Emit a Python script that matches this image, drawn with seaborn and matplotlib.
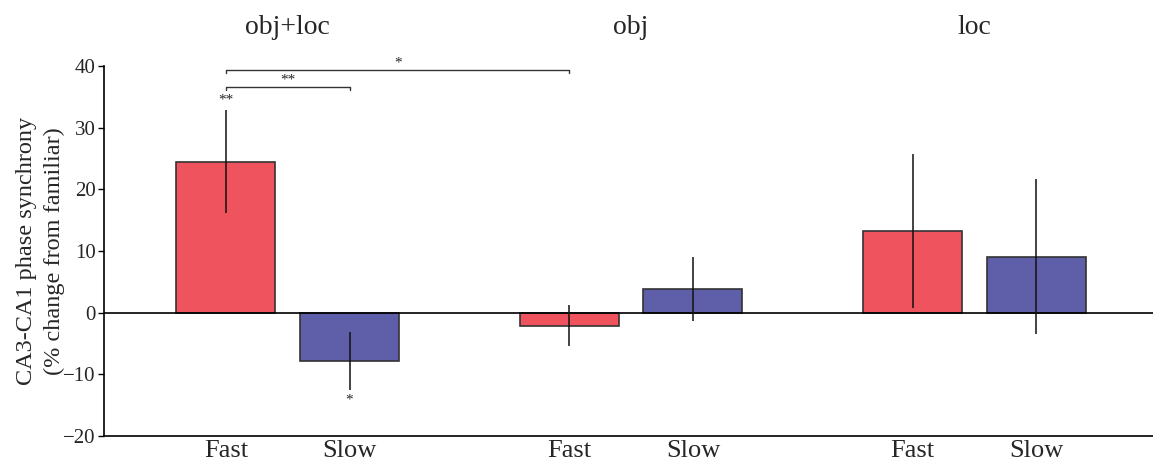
import numpy as np
import pandas as pd
import matplotlib
matplotlib.use("Agg")
import matplotlib.pyplot as plt
import matplotlib.transforms as mtransforms
import seaborn as sns

# Conditions and speed groups
conditions = ["obj+loc", "obj", "loc"]
speeds = ["Fast", "Slow"]

# Mean % change and SEM per condition, ordered (Fast, Slow)
fast_mean = [24.5, -2.1, 13.2]
slow_mean = [-7.8, 3.8, 9.1]
fast_sem = [8.3, 3.3, 12.5]
slow_sem = [4.7, 5.2, 12.5]

yticks = [-20, -10, 0, 10, 20, 30, 40]
ylabel = "CA3-CA1 phase synchrony\n(% change from familiar)"

palette = {"Fast": "#EF535E", "Slow": "#5F5FA9"}

df = pd.DataFrame({
    "condition": conditions * 2,
    "speed": ["Fast"] * 3 + ["Slow"] * 3,
    "value": fast_mean + slow_mean,
    "sem": fast_sem + slow_sem,
})

sns.set_theme(style="white")
plt.rcParams["font.family"] = ["Liberation Serif", "DejaVu Serif"]

fig = plt.figure(figsize=(11.53, 4.63), dpi=100)
ax = fig.add_axes([0.0902, 0.0583, 0.9098, 0.7992])

sns.barplot(data=df, x="condition", y="value", hue="speed", order=conditions,
            hue_order=speeds, palette=palette, errorbar=None, width=0.72,
            gap=0.2, edgecolor="#333333", linewidth=1.2, saturation=1.0,
            legend=False, ax=ax)

# Bar centres, in the order the bars were drawn (hue-major)
centers = {}
for (spd, cond), patch in zip([(s, c) for s in speeds for c in conditions], ax.patches):
    centers[(cond, spd)] = patch.get_x() + patch.get_width() / 2

xs = [centers[(c, s)] for c, s in zip(df["condition"], df["speed"])]
ax.errorbar(xs, df["value"], yerr=df["sem"], fmt="none", ecolor="#111111",
            elinewidth=1.1, capsize=0, zorder=5)

ax.axhline(0, color="black", lw=1.2, zorder=4)

ax.set_ylim(-20, 40)
ax.set_xlim(-0.535, 2.52)
ax.set_yticks(yticks)
ax.set_yticklabels(["\u221220", "\u221210", "0", "10", "20", "30", "40"], fontsize=15)
ax.tick_params(axis="y", direction="out", length=4, width=1, color="black", pad=2, left=True)

tick_pos = [centers[(c, s)] for c in conditions for s in speeds]
ax.set_xticks(tick_pos)
ax.set_xticklabels([s for c in conditions for s in speeds], fontsize=19)
ax.tick_params(axis="x", length=0, pad=3)
ax.set_xlabel("")
ax.set_ylabel(ylabel, fontsize=17.5, linespacing=1.4, labelpad=-1)

for side in ["top", "right"]:
    ax.spines[side].set_visible(False)
for side in ["left", "bottom"]:
    ax.spines[side].set_color("black")
    ax.spines[side].set_linewidth(1.2)

# Condition titles above each group
trans = mtransforms.blended_transform_factory(ax.transData, fig.transFigure)
for i, cond in enumerate(conditions):
    ax.text(i, 0.94, cond, transform=trans, ha="center", va="center", fontsize=20)

# Significance brackets
def bracket(x0, x1, y, label, tick=0.5):
    ax.plot([x0, x0, x1, x1], [y - tick, y, y, y - tick], color="#333333", lw=1.0,
            clip_on=False)
    ax.text((x0 + x1) / 2, y + 0.1, label, ha="center", va="bottom", fontsize=11)

bracket(centers[("obj+loc", "Fast")], centers[("obj", "Fast")], 39.3, "*")
bracket(centers[("obj+loc", "Fast")], centers[("obj+loc", "Slow")], 36.6, "**")

# Per-bar significance markers
f0 = fast_mean[0] + fast_sem[0]
ax.text(centers[("obj+loc", "Fast")], f0 + 0.6, "**", ha="center", va="bottom", fontsize=11)
s0 = slow_mean[0] - slow_sem[0]
ax.text(centers[("obj+loc", "Slow")], s0 - 0.6, "*", ha="center", va="top", fontsize=11)

fig.savefig("out.png", dpi=100)
